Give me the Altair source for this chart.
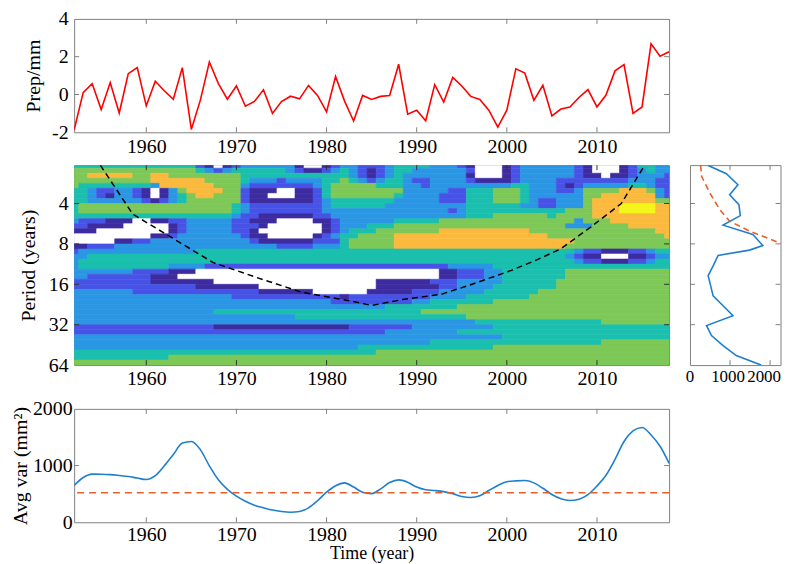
import altair as alt
import pandas as pd

FONT = "Liberation Serif"

# ---------------- data ----------------
years = list(range(1952, 2019))
prep = [-1.87, 0.10, 0.57, -0.80, 0.63, -0.98, 1.10, 1.42, -0.60, 0.70,
        0.20, -0.25, 1.42, -1.85, -0.30, 1.72, 0.58, -0.25, 0.45, -0.62,
        -0.37, 0.25, -1.00, -0.37, -0.09, -0.23, 0.48, -0.05, -0.92, 0.95,
        -0.35, -1.40, -0.05, -0.26, -0.10, -0.05, 1.60, -1.04, -0.83, -1.39,
        0.52, -0.40, 0.90, 0.45, -0.10, -0.26, -0.83, -1.72, -0.83, 1.36,
        1.13, -0.31, 0.49, -1.13, -0.77, -0.66, -0.16, 0.26, -0.66, -0.03,
        1.25, 1.58, -1.00, -0.66, 2.68, 2.02, 2.26]

avg_var = [650, 790, 850, 848, 840, 825, 808, 780, 755, 822,
           995, 1195, 1397, 1425, 1281, 995, 750, 580, 460, 370,
           300, 255, 215, 190, 178, 190, 255, 380, 530, 645,
           695, 621, 530, 505, 590, 700, 747, 705, 621, 574,
           560, 540, 505, 455, 436, 466, 560, 650, 715, 730,
           736, 695, 600, 490, 415, 385, 408, 488, 640, 830,
           1109, 1425, 1610, 1672, 1540, 1340, 1040]
avg_sig = [520]

gws_period = [2.08, 2.40, 2.90, 3.44, 4.08, 4.92, 5.80, 6.81, 8.22, 8.9, 9.74,
              11.67, 13.8, 19.5, 23.1, 27.4, 32.5, 38.6, 45.8, 54.3, 64.0]
gws_power = [454, 909, 1197, 991, 1222, 1256, 826, 1570, 1818, 1487, 702,
             578, 454, 578, 826, 1074, 413, 537, 826, 1156, 1776]
sig_period = [2.08, 2.51, 3.34, 4.44, 5.42, 6.42, 7.84, 8.3]
sig_power = [265, 290, 496, 743, 991, 1487, 2230, 2600]

coi_year = [1954.9, 1958.5, 1967.4, 1972.2, 1977.3, 1982.2, 1985.0, 1988.4,
            1992.7, 1995.8, 2000.5, 2003.2, 2006.0, 2009.0, 2010.5, 2012.7, 2015.3]
coi_period = [2.07, 4.8, 11.0, 14.2, 18.4, 21.0, 23.0, 20.8,
              19.0, 16.3, 12.6, 10.6, 8.7, 6.2, 5.2, 4.0, 2.07]

# contour level of each cell: one row per 1/8 octave of period (from 2 yr down to 64 yr),
# each row given as runs of [level, number of years] starting in 1952
level_rows = [
    [[4,14],[2,1],[1,1],[0,1],[1,1],[2,1],[3,6],[1,1],[0,2],[1,1],[2,1],[3,2],[2,3],[3,1],[4,4],[3,3],[2,1],[1,1],[0,3],[1,1],[2,1],[3,6],[2,1],[1,1],[0,3],[1,1],[2,1],[4,2],[3,2]],
    [[5,14],[4,1],[3,1],[2,1],[3,1],[4,6],[3,1],[2,1],[1,2],[2,1],[3,1],[4,1],[3,1],[2,1],[1,1],[2,1],[3,1],[4,2],[3,6],[2,1],[0,3],[1,1],[2,1],[3,6],[2,1],[1,1],[0,3],[1,1],[2,1],[3,1],[4,1],[3,2]],
    [[5,2],[6,5],[5,2],[6,2],[5,8],[4,12],[3,1],[2,1],[1,1],[2,1],[3,1],[4,1],[3,7],[1,1],[0,3],[1,1],[2,1],[3,6],[2,1],[1,2],[0,1],[1,2],[2,1],[3,3],[2,1]],
    [[5,9],[6,6],[5,4],[4,1],[3,3],[2,1],[3,4],[4,2],[5,1],[4,1],[3,1],[2,1],[3,1],[4,2],[3,1],[2,2],[3,4],[2,1],[1,4],[2,1],[3,4],[2,8],[3,3],[2,2]],
    [[5,1],[4,8],[3,1],[6,6],[5,3],[3,1],[2,7],[3,1],[4,1],[5,5],[4,3],[3,2],[2,1],[3,9],[4,2],[3,3],[2,1],[1,1],[2,1],[3,5],[4,2],[3,1],[2,2]],
    [[4,2],[3,1],[2,2],[3,2],[2,1],[1,1],[0,1],[1,1],[3,1],[5,1],[6,4],[5,2],[2,1],[1,3],[0,2],[1,2],[2,1],[4,1],[5,8],[3,5],[2,2],[4,3],[5,3],[4,1],[3,3],[2,2],[3,1],[5,4],[6,3],[5,1],[3,1],[2,1]],
    [[4,2],[3,1],[2,1],[1,1],[3,2],[2,1],[1,1],[0,1],[1,1],[3,1],[4,1],[5,1],[6,2],[5,3],[2,1],[1,2],[0,3],[1,2],[2,1],[4,1],[5,7],[4,1],[3,4],[2,3],[4,3],[5,3],[4,1],[3,6],[5,2],[6,6],[3,1],[2,1]],
    [[4,2],[3,6],[2,1],[1,1],[2,1],[3,1],[4,1],[5,6],[2,1],[1,7],[2,1],[3,1],[4,7],[3,5],[2,3],[4,3],[5,3],[4,1],[3,1],[2,2],[3,3],[5,1],[6,7],[5,2]],
    [[4,1],[5,17],[4,1],[3,1],[2,8],[3,1],[4,6],[3,9],[4,6],[3,2],[2,2],[3,3],[5,1],[6,3],[7,4],[6,2]],
    [[4,1],[5,17],[4,1],[3,1],[2,8],[3,14],[2,1],[3,1],[4,11],[5,3],[6,3],[7,4],[6,2]],
    [[4,18],[3,1],[2,2],[1,6],[2,2],[3,15],[4,3],[5,6],[4,1],[5,4],[6,9]],
    [[3,1],[2,3],[1,3],[0,2],[1,2],[2,2],[3,5],[2,2],[1,3],[0,4],[1,2],[2,1],[3,6],[4,5],[5,15],[3,1],[5,3],[6,7]],
    [[2,2],[1,4],[0,5],[1,1],[2,1],[3,5],[2,3],[1,1],[0,6],[1,1],[2,1],[3,3],[4,3],[5,19],[3,3],[5,4],[6,5]],
    [[1,3],[0,8],[1,1],[2,1],[3,5],[2,2],[1,1],[0,7],[1,1],[2,1],[3,1],[4,3],[5,7],[6,10],[5,14],[6,2]],
    [[0,9],[1,2],[2,1],[3,7],[2,1],[1,2],[0,5],[1,1],[2,1],[3,1],[4,2],[5,4],[6,17],[5,13],[6,1]],
    [[0,5],[1,2],[2,2],[3,11],[2,1],[1,6],[2,3],[4,1],[5,5],[6,20],[5,11]],
    [[1,2],[2,3],[3,18],[2,4],[3,3],[4,1],[5,5],[6,19],[5,12]],
    [[2,1],[3,13],[4,42],[3,1],[2,2],[1,3],[2,2],[3,1],[4,2]],
    [[3,2],[4,53],[3,1],[2,1],[1,2],[0,3],[1,2],[2,1],[3,2]],
    [[3,1],[4,55],[3,1],[2,2],[1,3],[2,2],[3,1],[4,2]],
    [[3,1],[4,10],[3,4],[2,27],[3,5],[4,20]],
    [[3,7],[2,4],[1,3],[0,27],[1,2],[2,3],[3,2],[4,7],[5,12]],
    [[3,2],[2,7],[1,3],[0,29],[1,2],[2,3],[3,2],[4,7],[5,12]],
    [[2,9],[1,7],[0,18],[1,6],[2,3],[3,5],[4,6],[5,13]],
    [[2,14],[1,7],[0,13],[1,7],[2,2],[3,4],[4,7],[5,13]],
    [[3,7],[2,14],[1,6],[0,6],[1,5],[2,3],[3,5],[4,6],[5,15]],
    [[3,18],[2,12],[1,1],[2,9],[3,4],[4,7],[5,16]],
    [[3,29],[2,9],[3,2],[4,7],[5,20]],
    [[3,35],[4,8],[5,24]],
    [[3,16],[4,23],[5,28]],
    [[3,25],[4,19],[5,23]],
    [[3,45],[4,14],[5,8]],
    [[2,16],[1,15],[2,7],[3,9],[4,20]],
    [[2,35],[3,8],[4,24]],
    [[3,48],[4,19]],
    [[3,40],[4,19],[5,8]],
    [[3,32],[4,15],[5,20]],
    [[4,34],[5,33]],
    [[4,11],[5,56]],
    [[5,67]],
]

level_names = ["0", "1", "2", "3", "4", "5", "6", "7"]
level_colors = ["#ffffff", "#3d2ba0", "#4753e6", "#2a96e4",
                "#1bbfae", "#7dc857", "#fbba3d", "#f5f517"]

xtick_years = [1960, 1970, 1980, 1990, 2000, 2010]
prep_ticks = [-2, 0, 2, 4]
period_labels = [4, 8, 16, 32, 64]
period_ticks = [4, 8, 16, 32]
power_ticks = [0, 1000, 2000]
power_label_dx = [0, -2, -6]
avg_ticks = [0, 1000, 2000]

# ---------------- layout constants ----------------
W = 598
H_TOP = 114
H_MID = 201
W_R = 91
H_BOT = 114
TL = 5
FRAME = "#808080"
TICKC = "#333333"
XLP = 4  # x label padding

xscale = alt.Scale(domain=[1952, 2018], nice=False, zero=False)
pscale = alt.Scale(type="log", base=2, domain=[2.07, 64], reverse=True, nice=False)
wscale = alt.Scale(domain=[0, 2260], nice=False, zero=False)
prep_scale = alt.Scale(domain=[-2, 4], nice=False, zero=False)
avg_scale = alt.Scale(domain=[0, 2000], nice=False, zero=False)


def x_tick_layers(field, vals, scale, axis, h, color):
    d = pd.DataFrame({field: vals})
    ex = alt.X(f"{field}:Q", scale=scale, axis=axis)
    a = alt.Chart(d).mark_rule(color=color, strokeWidth=1).encode(
        x=ex, y=alt.value(h - TL), y2=alt.value(h))
    b = alt.Chart(d).mark_rule(color=color, strokeWidth=1).encode(
        x=ex, y=alt.value(0), y2=alt.value(TL))
    return [a, b]


def y_tick_layers(field, vals, scale, axis, w, color):
    d = pd.DataFrame({field: vals})
    ey = alt.Y(f"{field}:Q", scale=scale, axis=axis)
    a = alt.Chart(d).mark_rule(color=color, strokeWidth=1).encode(
        y=ey, x=alt.value(0), x2=alt.value(TL))
    b = alt.Chart(d).mark_rule(color=color, strokeWidth=1).encode(
        y=ey, x=alt.value(w - TL), x2=alt.value(w))
    return [a, b]


def spacer(x0, x1, y0, y1):
    # invisible mark that fixes the layout bounds of a panel
    return alt.Chart(pd.DataFrame({"s": [0]})).mark_rule(
        strokeOpacity=0, strokeWidth=1, color="white").encode(
        x=alt.value(x0), x2=alt.value(x1), y=alt.value(y0), y2=alt.value(y1))


# ---------------- top panel ----------------
ax_year_plain = alt.Axis(values=xtick_years, labelExpr="datum.value", title=None, labelPadding=XLP)
ax_prep = alt.Axis(values=prep_ticks, labelExpr="datum.value", title="Prep/mm",
                   labelPadding=6, titlePadding=8)
df_top = pd.DataFrame({"year": years, "prep": prep})
top_line = alt.Chart(df_top).mark_line(color="#ff0000", strokeWidth=1.6, clip=True).encode(
    x=alt.X("year:Q", scale=xscale, axis=ax_year_plain),
    y=alt.Y("prep:Q", scale=prep_scale, axis=ax_prep),
)
top = alt.layer(
    top_line,
    *x_tick_layers("year", xtick_years, xscale, ax_year_plain, H_TOP, FRAME),
    *y_tick_layers("prep", [0, 2], prep_scale, ax_prep, W, FRAME),
    spacer(0, 1, -20, -20),
    spacer(0, 1, H_TOP + 26, H_TOP + 26),
).properties(width=W, height=H_TOP)

# ---------------- contour panel ----------------
recs = []
for r, runs in enumerate(level_rows):
    p0 = 2 ** (1 + 0.125 * r)
    p1 = 2 ** (1.125 + 0.125 * r)
    y = years[0]
    for lvl, n in runs:
        recs.append({"year": y - 0.5, "year_end": y + n - 0.5,
                     "period": p0, "period_end": p1, "level": level_names[lvl]})
        y += n
df_cells = pd.DataFrame(recs)

ax_period = alt.Axis(values=period_labels, labelExpr="datum.value", title="Period (years)",
                     labelPadding=6, titlePadding=10)
lvl_scale = alt.Scale(domain=level_names, range=level_colors)
cells = alt.Chart(df_cells).mark_rect(clip=True, strokeWidth=0.6).encode(
    x=alt.X("year:Q", scale=xscale, axis=ax_year_plain),
    x2="year_end:Q",
    y=alt.Y("period:Q", scale=pscale, axis=ax_period),
    y2="period_end:Q",
    color=alt.Color("level:N", scale=lvl_scale, legend=None),
    stroke=alt.Stroke("level:N", scale=lvl_scale, legend=None),
)
df_coi = pd.DataFrame({"year": coi_year, "period": coi_period, "i": range(len(coi_year))})
coi = alt.Chart(df_coi).mark_line(color="black", strokeWidth=1.5, strokeDash=[6, 4], clip=True).encode(
    x=alt.X("year:Q", scale=xscale, axis=ax_year_plain),
    y=alt.Y("period:Q", scale=pscale, axis=ax_period),
    order="i:Q",
)
mid = alt.layer(
    cells, coi,
    *x_tick_layers("year", xtick_years, xscale, ax_year_plain, H_MID, TICKC),
    *y_tick_layers("period", period_ticks, pscale, ax_period, W, TICKC),
    spacer(0, 1, H_MID + 24, H_MID + 24),
).properties(width=W, height=H_MID)

# ---------------- global wavelet spectrum ----------------
df_g = pd.DataFrame({"power": gws_power, "period": gws_period, "i": range(len(gws_power))})
df_s = pd.DataFrame({"power": sig_power, "period": sig_period, "i": range(len(sig_power))})
g_line = alt.Chart(df_g).mark_line(color="#1f7fcf", strokeWidth=1.6, clip=True).encode(
    x=alt.X("power:Q", scale=wscale, axis=None),
    y=alt.Y("period:Q", scale=pscale, axis=None),
    order="i:Q",
)
s_line = alt.Chart(df_s).mark_line(color="#e5602a", strokeWidth=1.6, strokeDash=[6, 4], clip=True).encode(
    x=alt.X("power:Q", scale=wscale, axis=None),
    y=alt.Y("period:Q", scale=pscale, axis=None),
    order="i:Q",
)
w_labels = []
for v, dx in zip(power_ticks, power_label_dx):
    w_labels.append(
        alt.Chart(pd.DataFrame({"power": [v], "label": [str(v)]})).mark_text(
            font=FONT, fontSize=17, color="black", align="center", baseline="top", dx=dx
        ).encode(
            x=alt.X("power:Q", scale=wscale, axis=None),
            y=alt.value(H_MID + XLP),
            text="label:N",
        )
    )
right = alt.layer(
    g_line, s_line, *w_labels,
    *x_tick_layers("power", [1000, 2000], wscale, None, H_MID, FRAME),
    *y_tick_layers("period", period_ticks, pscale, None, W_R, FRAME),
    spacer(-10, -9, 0, 0),
    spacer(W_R + 14, W_R + 15, 0, 0),
).properties(width=W_R, height=H_MID)

# ---------------- scale-averaged variance ----------------
ax_year_t = alt.Axis(values=xtick_years, labelExpr="datum.value", title="Time (year)",
                     labelPadding=2, titlePadding=0, titleFontSize=18)
ax_avg = alt.Axis(values=avg_ticks, labelExpr="datum.value", title="Avg var (mm²)",
                  labelPadding=2, titlePadding=2)
df_b = pd.DataFrame({"year": years, "var": avg_var})
b_line = alt.Chart(df_b).mark_line(color="#1f7fcf", strokeWidth=1.6, clip=True,
                                   interpolate="monotone").encode(
    x=alt.X("year:Q", scale=xscale, axis=ax_year_t),
    y=alt.Y("var:Q", scale=avg_scale, axis=ax_avg),
)
b_sig = alt.Chart(pd.DataFrame({"var": avg_sig})).mark_rule(
    color="#e5602a", strokeWidth=1.6, strokeDash=[7, 5]).encode(
    y=alt.Y("var:Q", scale=avg_scale, axis=ax_avg),
)
bottom = alt.layer(
    b_line, b_sig,
    *x_tick_layers("year", xtick_years, xscale, ax_year_t, H_BOT, FRAME),
    *y_tick_layers("var", [1000], avg_scale, ax_avg, W, FRAME),
    spacer(-80, -79, 0, 0),
    spacer(0, 1, -13, -13),
).properties(width=W, height=H_BOT)


def blank():
    return alt.Chart(pd.DataFrame({"v": [0]})).mark_point(opacity=0).encode(
        x=alt.X("v:Q", axis=None), y=alt.Y("v:Q", axis=None)
    ).properties(width=W_R, height=1, view=alt.ViewBackground(strokeOpacity=0))


chart = alt.concat(
    top, blank(), mid, right, bottom, blank(),
    columns=2, spacing={"row": 5, "column": 8}, align="each", bounds="full",
).properties(
    padding={"left": -14.5, "top": -11.5, "right": -14.5, "bottom": 0}
).configure_view(
    stroke=FRAME, strokeWidth=1
).configure_axis(
    labelFont=FONT, titleFont=FONT, labelFontSize=20, titleFontSize=20,
    titleFontWeight="normal", labelColor="black", titleColor="black",
    domain=False, ticks=False, grid=False, labelFlush=False, labelOverlap=False,
)

chart.save("out.html", embed_options={"renderer": "svg", "actions": False})
